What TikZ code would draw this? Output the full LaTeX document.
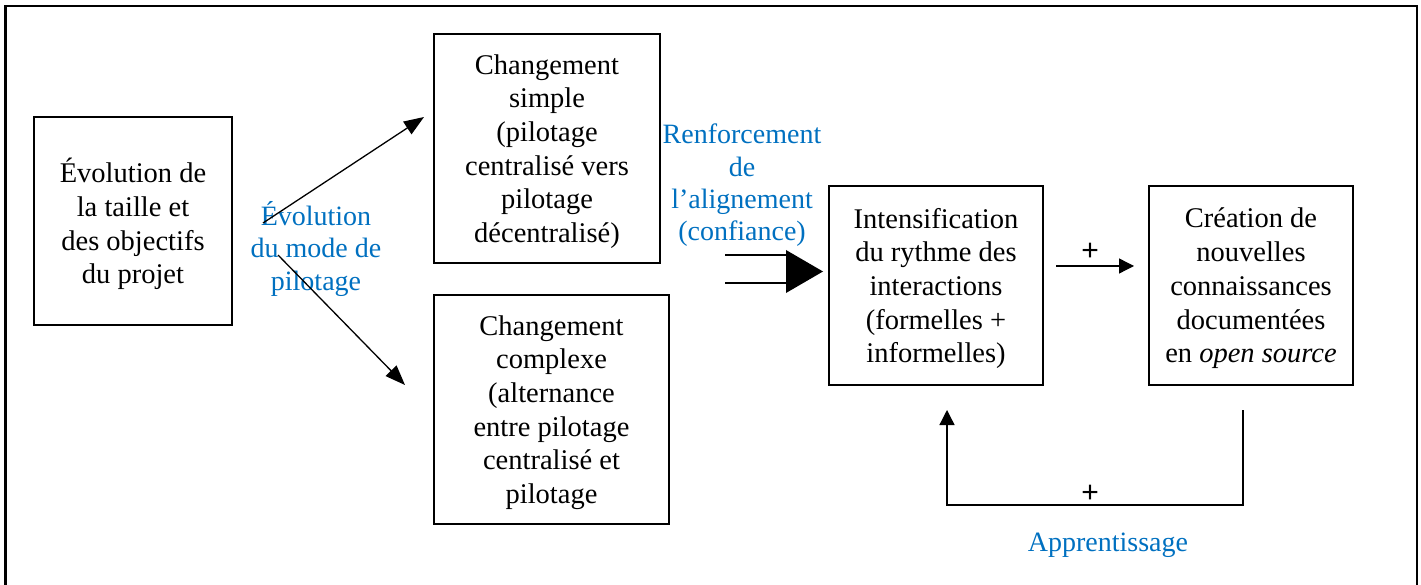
\documentclass[tikz,border=0pt]{standalone}
\usepackage{fontspec}
\setmainfont{Liberation Serif}
\newfontfamily\plusfont{Liberation Sans}
\usetikzlibrary{arrows.meta}
\definecolor{lblue}{RGB}{0,112,192}
\begin{document}
\begin{tikzpicture}[x=1pt,y=-1pt,
  box/.style={draw, line width=2.2pt, inner sep=0pt},
  btext/.style={inner sep=0pt, align=center, yshift=-3pt,
    font=\fontsize{28.5}{33.7}\selectfont},
  blab/.style={text=lblue, align=center, inner sep=0pt, yshift=-3pt,
    font=\fontsize{28}{32.3}\selectfont},
  plain/.style={inner sep=0pt, font=\plusfont\fontsize{30}{30}\selectfont},
  arr/.style={line width=1.3pt, -{Triangle[length=20pt,width=15pt]}},
  sarr/.style={line width=1.3pt, -{Triangle[length=15pt,width=15pt]}},
  ln/.style={line width=1.3pt}]
\useasboundingbox (0,0) rectangle (1421,585);
% outer frame
\draw[line width=2.6pt] (5.5,586) -- (5.5,6) -- (1417,6) -- (1417,586);

\node[box, minimum width=198pt, minimum height=208pt] (b1) at (133,221) {};
\node[btext] (t1) at (b1.center) {Évolution de\\la taille et\\des objectifs\\du projet};
\node[box, minimum width=226pt, minimum height=229pt] (b2) at (547,148.5) {};
\node[btext] (t2) at (b2.center) {Changement\\simple\\(pilotage\\centralisé vers\\pilotage\\décentralisé)};
\node[box, minimum width=235pt, minimum height=229pt] (b3) at (551.5,409.5) {};
\node[btext] (t3) at (b3.center) {Changement\\complexe\\(alternance\\entre pilotage\\centralisé et\\pilotage};
\node[box, minimum width=214pt, minimum height=199pt] (b4) at (936,285.5) {};
\node[btext] (t4) at (b4.center) {Intensification\\du rythme des\\interactions\\(formelles +\\informelles)};
\node[box, minimum width=204pt, minimum height=199pt] (b5) at (1251,285.5) {};
\node[btext] (t5) at (b5.center) {Création de\\nouvelles\\connaissances\\documentées\\en \textit{open source}};

\node[blab] (levo) at (316,246) {Évolution\\du mode de\\pilotage};
\node[blab] (lren) at (742,182.5) {Renforcement\\de\\l’alignement\\(confiance)};
\node[blab] (lapp) at (1108,542) {Apprentissage};

% diagonal arrows
\coordinate (s1) at (263,223);
\coordinate (e1) at (424,117);
\coordinate (s2) at (278,255);
\coordinate (e2) at (405,385);
\draw[arr] (s1) -- (e1);
\draw[arr] (s2) -- (e2);

% double arrow
\coordinate (d1) at (725,255);
\coordinate (d1e) at (787,255);
\coordinate (d2) at (725,283);
\coordinate (d2e) at (787,283);
\coordinate (tA) at (786,250);
\coordinate (tB) at (786,293);
\coordinate (tC) at (823,271.5);
\draw[ln] (d1) -- (d1e);
\draw[ln] (d2) -- (d2e);
\fill (tA) -- (tC) -- (tB) -- cycle;

% plus arrow
\coordinate (p1) at (1056,266);
\coordinate (p2) at (1134,266);
\draw[sarr] (p1) -- (p2);
\node[plain] (plus1) at (1090,252) {+};

% feedback loop
\coordinate (f1) at (1243,410);
\coordinate (f2) at (1243,505);
\coordinate (f3) at (947,505);
\coordinate (f4) at (947,410);
\draw[sarr] (f1) -- (f2) -- (f3) -- (f4);
\node[plain] (plus2) at (1090,494) {+};
\end{tikzpicture}
\end{document}
